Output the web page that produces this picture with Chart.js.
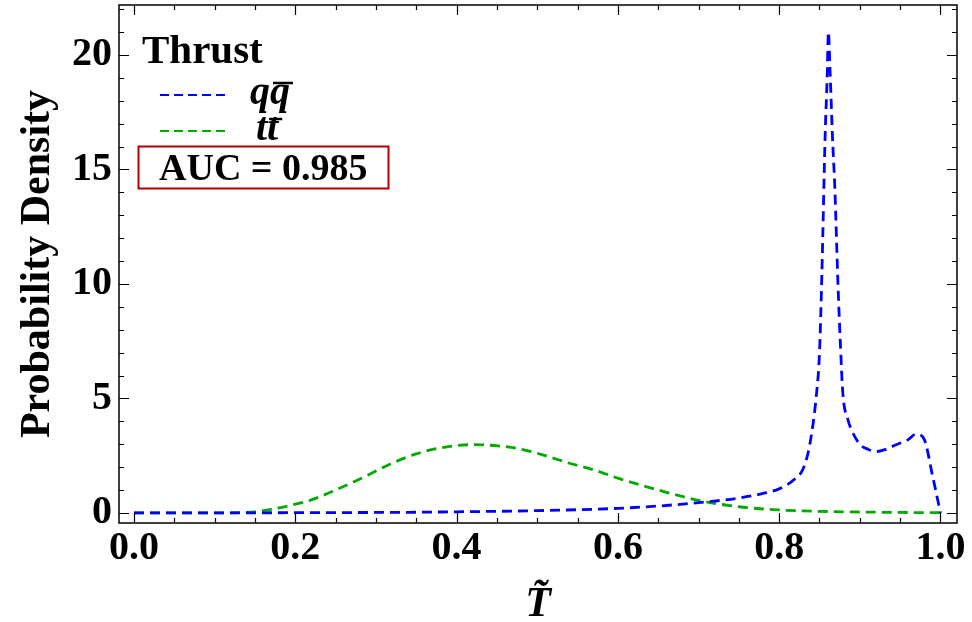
<!DOCTYPE html>
<html>
<head>
<meta charset="utf-8">
<script src="https://cdn.jsdelivr.net/npm/chart.js@4"></script>
<style>
html,body{margin:0;padding:0;background:#fff;}
#wrap{width:972px;height:622px;}
</style>
</head>
<body>
<div id="wrap"><canvas id="c" width="972" height="622"></canvas></div>
<script>
// ---- data ----
const qqT = [0, 0.05, 0.1, 0.15, 0.2, 0.25, 0.3, 0.35, 0.4, 0.45, 0.5, 0.55, 0.6, 0.65, 0.7, 0.75, 0.78, 0.8, 0.82, 0.83, 0.838, 0.846, 0.85, 0.853, 0.857, 0.8595, 0.861, 0.863, 0.866, 0.869, 0.873, 0.876, 0.879, 0.885, 0.89, 0.9, 0.91, 0.92, 0.93, 0.945, 0.96, 0.97, 0.98, 0.99, 1.0];
const qqV = [0, 0, 0, 0.005, 0.01, 0.015, 0.02, 0.03, 0.05, 0.07, 0.1, 0.14, 0.2, 0.3, 0.45, 0.65, 0.85, 1.05, 1.5, 1.95, 3.0, 5.1, 7.0, 10.5, 16.5, 19.0, 21.0, 19.4, 16.5, 14.2, 9.9, 7.3, 5.2, 4.1, 3.6, 3.0, 2.78, 2.68, 2.75, 2.98, 3.2, 3.45, 3.2, 1.65, 0];
const ttT = [0, 0.05, 0.1, 0.13, 0.15, 0.17, 0.19, 0.22, 0.25, 0.29, 0.32, 0.35, 0.39, 0.42, 0.47, 0.49, 0.51, 0.54, 0.57, 0.6, 0.65, 0.7, 0.75, 0.8, 0.85, 0.9, 0.95, 1.0];
const ttV = [0, 0, 0, 0.01, 0.05, 0.15, 0.3, 0.57, 1.0, 1.65, 2.17, 2.58, 2.9, 2.98, 2.85, 2.7, 2.5, 2.17, 1.88, 1.52, 1.0, 0.55, 0.27, 0.13, 0.07, 0.04, 0.02, 0.01];
const xTicks = [0, 0.2, 0.4, 0.6, 0.8, 1.0];
const yTicks = [0, 5, 10, 15, 20];
const seriesNames = ['q', 't'];
const legendTitle = 'Thrust';
const aucText = 'AUC = 0.985';
const xTitle = 'T\u0303';
const yTitle = 'Probability Density';

const BLUE = '#0000ff', GREEN = '#00aa00', RED = '#b00000';
const SERIF = '"Liberation Serif", "Times New Roman", serif';

function pts(xs, ys){ return xs.map((x,i)=>({x:x, y:ys[i]})); }

const framePlugin = {
  id: 'frame',
  afterDatasetsDraw(chart){
    const {ctx, chartArea:a, scales:{x, y}} = chart;
    ctx.save();
    ctx.strokeStyle = '#000';
    ctx.lineWidth = 1.5;
    ctx.strokeRect(a.left, a.top, a.right - a.left, a.bottom - a.top);
    ctx.lineWidth = 1.2;
    ctx.beginPath();
    for (let k = 0; k <= 20; k++){
      const v = k * 0.05;
      const px = Math.round(x.getPixelForValue(v)) + 0.5;
      const L = (k % 4 === 0) ? 10 : 5;
      ctx.moveTo(px, a.bottom); ctx.lineTo(px, a.bottom - L);
      ctx.moveTo(px, a.top); ctx.lineTo(px, a.top + L);
    }
    for (let k = 0; k <= 22; k++){
      const py = Math.round(y.getPixelForValue(k)) + 0.5;
      const L = (k % 5 === 0) ? 10 : 5;
      ctx.moveTo(a.left, py); ctx.lineTo(a.left + L, py);
      ctx.moveTo(a.right, py); ctx.lineTo(a.right - L, py);
    }
    ctx.stroke();
    ctx.restore();
  }
};

const legendPlugin = {
  id: 'customLegend',
  afterDraw(chart){
    const ctx = chart.ctx;
    ctx.save();
    ctx.fillStyle = '#000';
    ctx.textBaseline = 'alphabetic';
    ctx.textAlign = 'left';
    ctx.font = 'bold 41px ' + SERIF;
    ctx.fillText(legendTitle, 142, 63);
    const drawSample = (yy, col) => {
      ctx.save();
      ctx.strokeStyle = col; ctx.lineWidth = 2.2;
      ctx.setLineDash([9, 5]);
      ctx.beginPath(); ctx.moveTo(160, yy); ctx.lineTo(226, yy); ctx.stroke();
      ctx.restore();
    };
    drawSample(95, BLUE);
    drawSample(131, GREEN);
    ctx.font = 'italic bold 40px ' + SERIF;
    ctx.fillText(seriesNames[0], 250, 104);
    const wq = ctx.measureText(seriesNames[0]).width;
    ctx.fillText(seriesNames[0], 250 + wq, 104);
    ctx.lineWidth = 2.5; ctx.strokeStyle = '#000';
    ctx.beginPath(); ctx.moveTo(250 + wq + 3, 83); ctx.lineTo(250 + 2*wq + 3, 83); ctx.stroke();
    ctx.fillText(seriesNames[1], 256, 140);
    const wt = ctx.measureText(seriesNames[1]).width;
    ctx.fillText(seriesNames[1], 256 + wt, 140);
    ctx.beginPath(); ctx.moveTo(256 + wt + 2, 119); ctx.lineTo(256 + 2*wt + 4, 119); ctx.stroke();
    ctx.strokeStyle = RED; ctx.lineWidth = 2;
    ctx.strokeRect(138.5, 146.5, 250, 42);
    ctx.font = 'bold 38px ' + SERIF;
    ctx.fillText(aucText, 159, 180);
    ctx.restore();
  }
};

new Chart(document.getElementById('c'), {
  type: 'line',
  data: {
    datasets: [
      { label: 'qqbar', data: pts(qqT, qqV), borderColor: BLUE, borderWidth: 2.8, borderDash: [10, 6], pointRadius: 0, fill: false, cubicInterpolationMode: 'monotone' },
      { label: 'ttbar', data: pts(ttT, ttV), borderColor: GREEN, borderWidth: 2.8, borderDash: [10, 6], pointRadius: 0, fill: false, cubicInterpolationMode: 'monotone' }
    ]
  },
  options: {
    responsive: false,
    animation: false,
    devicePixelRatio: 1,
    layout: { padding: { top: 5, right: 15, left: 0, bottom: 0 } },
    plugins: { legend: { display: false }, tooltip: { enabled: false } },
    scales: {
      x: {
        type: 'linear', min: -0.0186, max: 1.0205,
        afterBuildTicks: s => { s.ticks = xTicks.map(v => ({value: v})); },
        afterFit: s => { s.height = 99; s.paddingLeft = 0; s.paddingRight = 0; },
        grid: { display: false, drawTicks: false },
        border: { display: false },
        ticks: { color: '#000', padding: 2, maxRotation: 0, autoSkip: false,
          font: { family: SERIF, size: 40, weight: 'bold' },
          callback: v => Number(v).toFixed(1) },
        title: { display: true, text: xTitle, color: '#000',
          font: { family: SERIF, size: 42, weight: 'bold', style: 'italic', lineHeight: 0.6 },
          padding: { top: 0, bottom: 4 } }
      },
      y: {
        type: 'linear', min: -0.44, max: 22.18,
        afterBuildTicks: s => { s.ticks = yTicks.map(v => ({value: v})); },
        afterFit: s => { s.width = 119; s.paddingTop = 0; s.paddingBottom = 0; },
        grid: { display: false, drawTicks: false },
        border: { display: false },
        ticks: { color: '#000', padding: 7, autoSkip: false,
          font: { family: SERIF, size: 40, weight: 'bold' } },
        title: { display: true, text: yTitle, color: '#000',
          font: { family: SERIF, size: 42, weight: 'bold', lineHeight: 1 },
          padding: { top: 17, bottom: 0 } }
      }
    }
  },
  plugins: [framePlugin, legendPlugin]
});
</script>
</body>
</html>
